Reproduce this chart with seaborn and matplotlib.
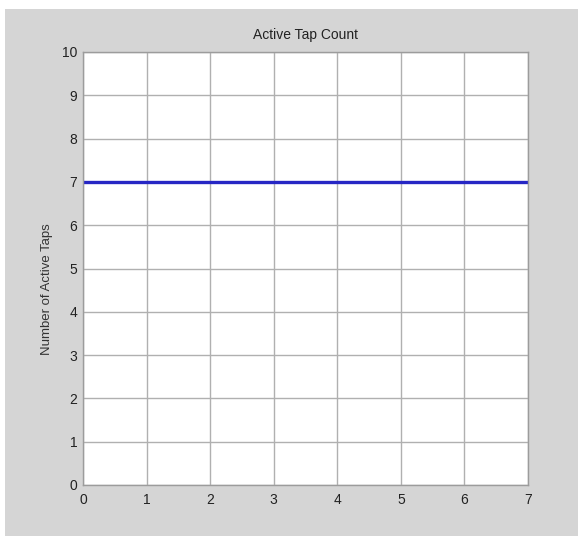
import matplotlib
matplotlib.use("Agg")
import matplotlib.pyplot as plt
import seaborn as sns
import pandas as pd
from matplotlib.patches import Rectangle

# Data
time_steps = [0, 1, 2, 3, 4, 5, 6, 7]
active_taps = [7, 7, 7, 7, 7, 7, 7, 7]
x_ticks = [0, 1, 2, 3, 4, 5, 6, 7]
y_ticks = [0, 1, 2, 3, 4, 5, 6, 7, 8, 9, 10]
title = "Active Tap Count"
ylabel = "Number of Active Taps"

sns.set_theme(style="whitegrid")
plt.rcParams['font.family'] = ['Liberation Sans', 'DejaVu Sans']

W, H = 578, 538
fig = plt.figure(figsize=(W / 100, H / 100), dpi=100, facecolor="white")
# gray panel background
fig.patches.append(Rectangle((5 / W, 2 / H), 1 - 5 / W, (536 - 9) / H,
                             transform=fig.transFigure, facecolor="#d5d5d5",
                             edgecolor="none", zorder=-10))

ax = fig.add_axes([83 / W, 1 - 485 / H, (528 - 83) / W, (485 - 52) / H])
ax.set_facecolor("white")

df = pd.DataFrame({"t": time_steps, "n": active_taps})
sns.lineplot(data=df, x="t", y="n", ax=ax, color="#2626c4", linewidth=2.4)

ax.set_xlim(0, 7)
ax.set_ylim(0, 10)
ax.set_xticks(x_ticks)
ax.set_yticks(y_ticks)
ax.set_xticklabels([str(v) for v in x_ticks])
ax.set_yticklabels([str(v) for v in y_ticks])
ax.grid(True, color="#b0b0b0", linewidth=1.0)
ax.tick_params(axis="both", length=0, labelsize=10, colors="#222222")
ax.tick_params(axis="x", pad=6)
ax.tick_params(axis="y", pad=4)
for s in ax.spines.values():
    s.set_color("#9c9c9c")
    s.set_linewidth(1.0)

ax.set_xlabel("")
ax.set_ylabel(ylabel, fontsize=9.5, color="#333333")
ax.yaxis.set_label_coords(-0.067, 0.453)
ax.set_title(title, fontsize=10, color="#222222", pad=9)

fig.savefig("out.png", dpi=100, facecolor=fig.get_facecolor())
